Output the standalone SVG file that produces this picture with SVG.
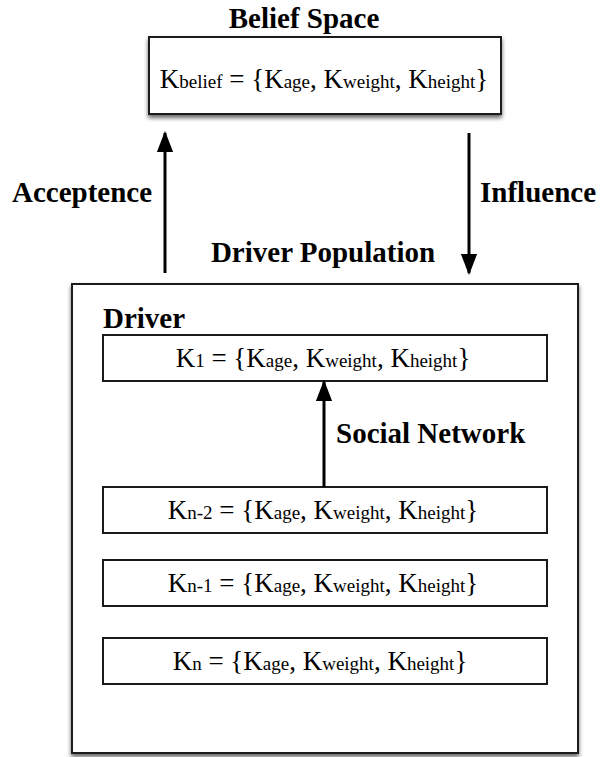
<svg xmlns="http://www.w3.org/2000/svg" width="600" height="757" viewBox="0 0 600 757">
  <defs>
    <filter id="shadow" x="-10%" y="-10%" width="120%" height="130%">
      <feDropShadow dx="0" dy="3" stdDeviation="2" flood-color="#000" flood-opacity="0.6"/>
    </filter>
    <marker id="head" viewBox="0 0 10 10" refX="9" refY="5" markerWidth="7" markerHeight="5.4" orient="auto" markerUnits="strokeWidth" preserveAspectRatio="none">
      <path d="M0,0 L10,5 L0,10 Z" fill="#000"/>
    </marker>
    <style>
      .title { font-family: "Liberation Serif", serif; font-weight: bold; font-size: 29px; fill: #000; }
      .formula { font-family: "Liberation Serif", serif; font-size: 27px; fill: #000; }
      .sub { font-size: 19px; }
      .box { fill: #fff; stroke: #1a1a1a; stroke-width: 2; }
      .edge { stroke: #000; stroke-width: 3; fill: none; marker-end: url(#head); }
    </style>
  </defs>

  <rect width="600" height="757" fill="#fff"/>

  <!-- belief space -->
  <g id="belief-space">
    <text class="title" x="304" y="28" text-anchor="middle">Belief Space</text>
    <rect class="box" x="149" y="37" width="352" height="77" filter="url(#shadow)"/>
    <text class="formula" x="324" y="88" text-anchor="middle">K<tspan class="sub">belief</tspan> = {K<tspan class="sub">age</tspan>, K<tspan class="sub">weight</tspan>, K<tspan class="sub">height</tspan>}</text>
  </g>

  <!-- driver population -->
  <g id="driver-population">
    <text class="title" x="323" y="262" text-anchor="middle">Driver Population</text>
    <rect class="box" x="72" y="284" width="506" height="469" filter="url(#shadow)"/>
    <text class="title" x="103" y="328">Driver</text>
  </g>

  <g id="driver-k1">
    <rect class="box" x="103" y="335" width="444" height="46"/>
    <text class="formula" x="323" y="367" text-anchor="middle">K<tspan class="sub">1</tspan> = {K<tspan class="sub">age</tspan>, K<tspan class="sub">weight</tspan>, K<tspan class="sub">height</tspan>}</text>
  </g>

  <g id="driver-kn-2">
    <rect class="box" x="103" y="487" width="444" height="46"/>
    <text class="formula" x="323" y="519" text-anchor="middle">K<tspan class="sub">n-2</tspan> = {K<tspan class="sub">age</tspan>, K<tspan class="sub">weight</tspan>, K<tspan class="sub">height</tspan>}</text>
  </g>

  <g id="driver-kn-1">
    <rect class="box" x="103" y="560" width="444" height="46"/>
    <text class="formula" x="323" y="592" text-anchor="middle">K<tspan class="sub">n-1</tspan> = {K<tspan class="sub">age</tspan>, K<tspan class="sub">weight</tspan>, K<tspan class="sub">height</tspan>}</text>
  </g>

  <g id="driver-kn">
    <rect class="box" x="103" y="638" width="444" height="46"/>
    <text class="formula" x="320" y="670" text-anchor="middle">K<tspan class="sub">n</tspan> = {K<tspan class="sub">age</tspan>, K<tspan class="sub">weight</tspan>, K<tspan class="sub">height</tspan>}</text>
  </g>

  <!-- connectors -->
  <g id="connectors">
    <line class="edge" x1="165" y1="273" x2="165" y2="133"/>
    <text class="title" x="12" y="202">Acceptence</text>
    <line class="edge" x1="469" y1="133" x2="469" y2="273"/>
    <text class="title" x="480" y="202">Influence</text>
    <line class="edge" x1="324" y1="487" x2="324" y2="382"/>
    <text class="title" x="336" y="443">Social Network</text>
  </g>
</svg>
